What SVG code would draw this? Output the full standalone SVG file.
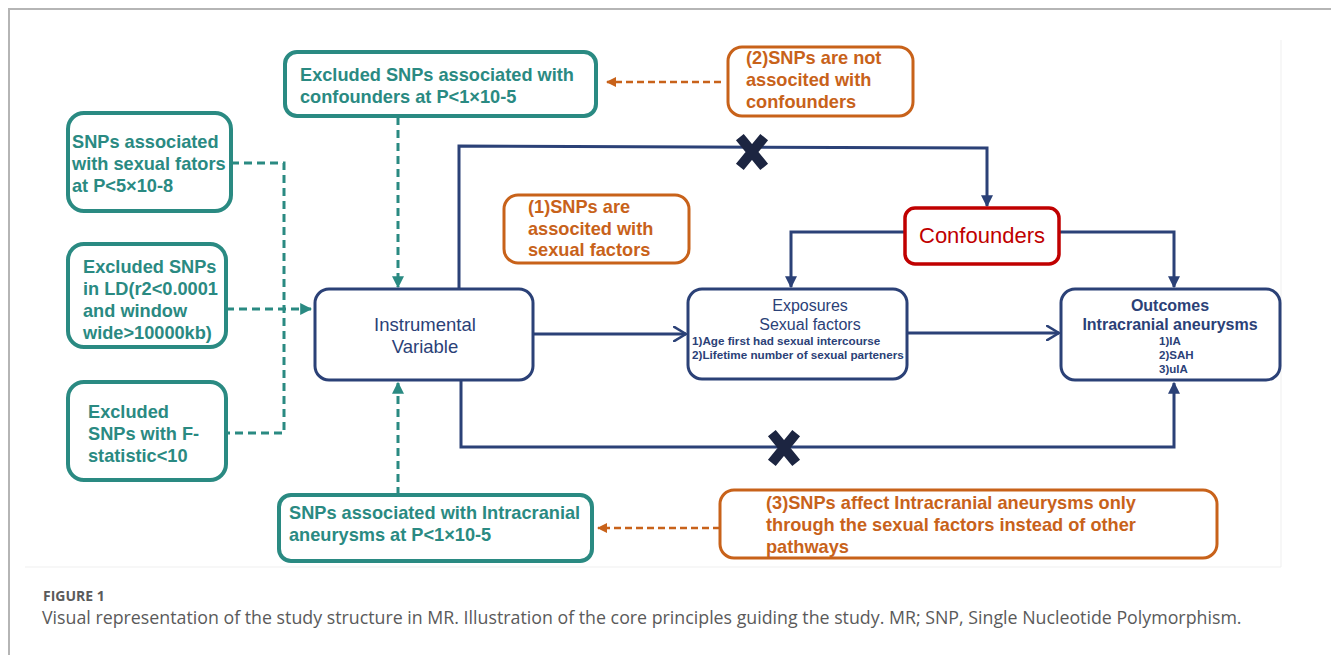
<svg xmlns="http://www.w3.org/2000/svg" width="1331" height="655" viewBox="0 0 1331 655">
<defs>
<style>
.bg{fill:#ffffff}
.frame{stroke:#b5b5b5;stroke-width:2;fill:none}
.panel{stroke:#efefef;stroke-width:1;fill:none}
.teal{fill:#ffffff;stroke:#2a8a82;stroke-width:4}
.orange{fill:#ffffff;stroke:#c8621a;stroke-width:3}
.navy{fill:#ffffff;stroke:#2b4177;stroke-width:3}
.red{fill:#ffffff;stroke:#c00000;stroke-width:3.5}
.tt{font-family:"Liberation Sans",Arial,sans-serif;font-weight:bold;font-size:18.2px;fill:#2a8a82}
.ot{font-family:"Liberation Sans",Arial,sans-serif;font-weight:bold;font-size:18.2px;fill:#c8621a}
.nt{font-family:"Liberation Sans",Arial,sans-serif;fill:#2b4177}
.dteal{stroke:#2a8a82;stroke-width:3;stroke-dasharray:8 5;fill:none}
.dor{stroke:#c8621a;stroke-width:2.5;stroke-dasharray:7 4;fill:none}
.blue{stroke:#2b4177;stroke-width:3;fill:none}
.xm{stroke:#1c2541;stroke-width:10;stroke-linecap:square}
.cap{font-family:"Open Sans","Noto Sans",sans-serif;fill:#5a5a5a}
</style>
<marker id="aTeal" viewBox="0 0 10 10" refX="9" refY="5" markerWidth="4" markerHeight="4" orient="auto" markerUnits="strokeWidth">
<path d="M0,0 L10,5 L0,10 z" fill="#2a8a82"/>
</marker>
<marker id="aOr" viewBox="0 0 10 10" refX="9" refY="5" markerWidth="4" markerHeight="4" orient="auto" markerUnits="strokeWidth">
<path d="M0,0 L10,5 L0,10 z" fill="#c8621a"/>
</marker>
<marker id="aBlue" viewBox="0 0 10 10" refX="9" refY="5" markerWidth="4" markerHeight="4" orient="auto" markerUnits="strokeWidth">
<path d="M0,0 L10,5 L0,10 z" fill="#2b4177"/>
</marker>
<marker id="aChev" viewBox="0 0 12 14" refX="11" refY="7" markerWidth="5" markerHeight="5.5" orient="auto" markerUnits="strokeWidth">
<path d="M1,1 L11,7 L1,13" fill="none" stroke="#2b4177" stroke-width="2.2" stroke-linecap="round" stroke-linejoin="round"/>
</marker>
</defs>
<rect class="bg" x="0" y="0" width="1331" height="655"/>
<path class="frame" d="M9,655 V9 H1331"/>
<path class="panel" d="M25,567 H1281 V40"/>

<g id="connectors">
<path class="dteal" d="M231,163 H284 V433 H226"/>
<path class="dteal" d="M226,309 H311" marker-end="url(#aTeal)"/>
<path class="dteal" d="M398,117 V287" marker-end="url(#aTeal)"/>
<path class="dteal" d="M398,495 V383" marker-end="url(#aTeal)"/>
<path class="dor" d="M721,82 H607" marker-end="url(#aOr)"/>
<path class="dor" d="M720,528 H598" marker-end="url(#aOr)"/>
<path class="blue" d="M459,289 V146 L987,148 V206" marker-end="url(#aBlue)"/>
<path class="blue" d="M905,232 H791 V287" marker-end="url(#aBlue)"/>
<path class="blue" d="M1059,232 H1174 V287" marker-end="url(#aBlue)"/>
<path class="blue" d="M461,380 V447 H1174 V383" marker-end="url(#aBlue)"/>
<path class="blue" d="M533,334 H686" marker-end="url(#aChev)"/>
<path class="blue" d="M907,333 H1059" marker-end="url(#aChev)"/>
<g id="x1"><path class="xm" d="M743,141 L761,163 M761,141 L743,163"/></g>
<g id="x2"><path class="xm" d="M775,437 L793,459 M793,437 L775,459"/></g>
</g>

<g id="n-confex">
<rect class="teal" x="285" y="52" width="311" height="64" rx="12"/>
<text class="tt" x="300" y="81">Excluded SNPs associated with</text>
<text class="tt" x="300" y="103">confounders at P&lt;1×10-5</text>
</g>
<g id="n-sexual">
<rect class="teal" x="68" y="113" width="163" height="98" rx="16"/>
<text class="tt" x="72" y="148">SNPs associated</text>
<text class="tt" x="72" y="170">with sexual fators</text>
<text class="tt" x="72" y="192">at P&lt;5×10-8</text>
</g>
<g id="n-ld">
<rect class="teal" x="68" y="244" width="158" height="103" rx="16"/>
<text class="tt" x="83" y="273">Excluded SNPs</text>
<text class="tt" x="83" y="295">in LD(r2&lt;0.0001</text>
<text class="tt" x="83" y="317">and window</text>
<text class="tt" x="83" y="339">wide&gt;10000kb)</text>
</g>
<g id="n-fstat">
<rect class="teal" x="68" y="382" width="158" height="98" rx="16"/>
<text class="tt" x="88" y="418">Excluded</text>
<text class="tt" x="88" y="440">SNPs with F-</text>
<text class="tt" x="88" y="462">statistic&lt;10</text>
</g>
<g id="n-ia">
<rect class="teal" x="279" y="495" width="313" height="66" rx="12"/>
<text class="tt" x="289" y="519">SNPs associated with Intracranial</text>
<text class="tt" x="289" y="541">aneurysms at P&lt;1×10-5</text>
</g>
<g id="n-a2">
<rect class="orange" x="728" y="47" width="185" height="69" rx="14"/>
<text class="ot" x="746" y="64">(2)SNPs are not</text>
<text class="ot" x="746" y="86">associted with</text>
<text class="ot" x="746" y="108">confounders</text>
</g>
<g id="n-a1">
<rect class="orange" x="504" y="195" width="185" height="68" rx="14"/>
<text class="ot" x="528" y="213">(1)SNPs are</text>
<text class="ot" x="528" y="235">associted with</text>
<text class="ot" x="528" y="256">sexual factors</text>
</g>
<g id="n-a3">
<rect class="orange" x="720" y="490" width="497" height="68" rx="14"/>
<text class="ot" x="766" y="509">(3)SNPs affect Intracranial aneurysms only</text>
<text class="ot" x="766" y="531">through the sexual factors instead of other</text>
<text class="ot" x="766" y="553">pathways</text>
</g>
<g id="n-iv">
<rect class="navy" x="315" y="289" width="218" height="91" rx="14"/>
<text class="nt" x="425" y="331" font-size="18.5" text-anchor="middle">Instrumental</text>
<text class="nt" x="425" y="353" font-size="18.5" text-anchor="middle">Variable</text>
</g>
<g id="n-conf">
<rect class="red" x="905" y="208" width="154" height="56" rx="10"/>
<text x="982" y="243" font-family="Liberation Sans,Arial,sans-serif" font-size="22" fill="#c00000" text-anchor="middle">Confounders</text>
</g>
<g id="n-exp">
<rect class="navy" x="688" y="289" width="219" height="90" rx="14"/>
<text class="nt" x="810" y="311" font-size="16" text-anchor="middle">Exposures</text>
<text class="nt" x="810" y="330" font-size="16" text-anchor="middle">Sexual factors</text>
<text class="nt" x="692" y="345" font-size="11.7" font-weight="bold">1)Age first had sexual intercourse</text>
<text class="nt" x="692" y="359" font-size="11.7" font-weight="bold">2)Lifetime number of sexual parteners</text>
</g>
<g id="n-out">
<rect class="navy" x="1061" y="289" width="219" height="91" rx="14"/>
<text class="nt" x="1170" y="311" font-size="16" font-weight="bold" text-anchor="middle">Outcomes</text>
<text class="nt" x="1170" y="330" font-size="16" font-weight="bold" text-anchor="middle">Intracranial aneurysms</text>
<text class="nt" x="1159" y="345" font-size="11.5" font-weight="bold">1)IA</text>
<text class="nt" x="1159" y="359" font-size="11.5" font-weight="bold">2)SAH</text>
<text class="nt" x="1159" y="373" font-size="11.5" font-weight="bold">3)uIA</text>
</g>

<g id="caption">
<text class="cap" x="43" y="601" font-size="14" font-weight="bold">FIGURE 1</text>
<text class="cap" x="42" y="624" font-size="17.8">Visual representation of the study structure in MR. Illustration of the core principles guiding the study. MR; SNP, Single Nucleotide Polymorphism.</text>
</g>
</svg>
